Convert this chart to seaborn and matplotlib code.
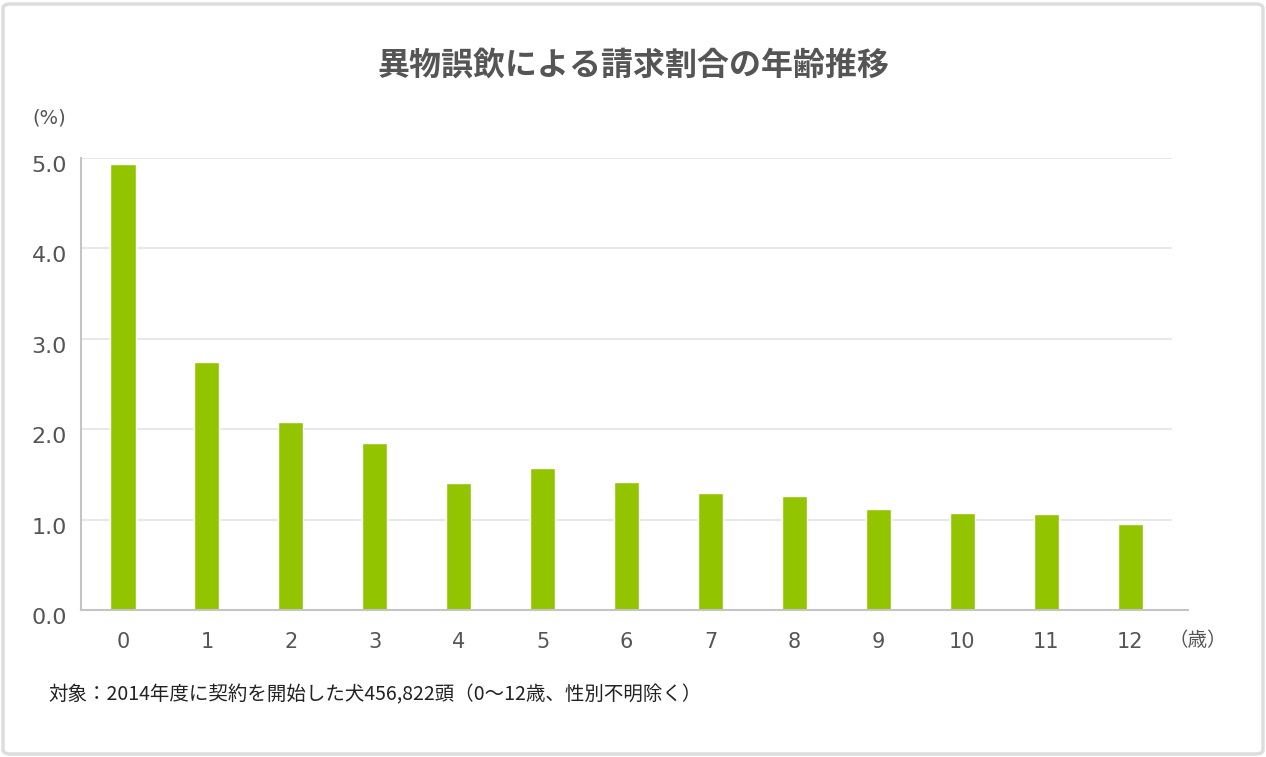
import numpy as np
import matplotlib
matplotlib.use("Agg")
import matplotlib.pyplot as plt
import matplotlib.transforms as mtransforms
from matplotlib.patches import FancyBboxPatch
import seaborn as sns

# data
ages = [0, 1, 2, 3, 4, 5, 6, 7, 8, 9, 10, 11, 12]
ratio = [4.93, 2.74, 2.08, 1.85, 1.41, 1.57, 1.42, 1.29, 1.26, 1.12, 1.07, 1.06, 0.95]
y_ticks = [0.0, 1.0, 2.0, 3.0, 4.0, 5.0]
y_tick_labels = ["0.0", "1.0", "2.0", "3.0", "4.0", "5.0"]

title = "異物誤飲による請求割合の年齢推移"
note = "対象：2014年度に契約を開始した犬456,822頭（0～12歳、性別不明除く）"

BAR = "#92c400"
TXT = "#555555"
JP = ["Noto Sans CJK JP", "DejaVu Sans"]

sns.set_style("white")
plt.rcParams["font.family"] = ["DejaVu Sans", "Noto Sans CJK JP"]

W, H = 1266, 757
fig = plt.figure(figsize=(W / 100, H / 100), dpi=100)
ax = fig.add_axes([81 / W, 1 - 610 / H, (1188 - 81) / W, (610 - 158) / H])

sns.barplot(x=ages, y=ratio, color=BAR, saturation=1, width=0.3, ax=ax)

ax.set_xlim(-0.5, 12.69)
ax.set_ylim(0, 5.0)

# light horizontal grid, stops at the last category boundary
ax.hlines(y_ticks[1:], -0.5, 12.5, color="#e8e8e8", lw=1.5, zorder=0)

for s in ["top", "right"]:
    ax.spines[s].set_visible(False)
for s in ["left", "bottom"]:
    ax.spines[s].set_color("#c4c4c4")
    ax.spines[s].set_linewidth(1.5)

ax.set_yticks(y_ticks)
ax.set_yticklabels(y_tick_labels, fontsize=16, color=TXT)
ax.tick_params(axis="y", direction="in", length=6, width=1, color="#c4c4c4", pad=10)
# labels sit a little under their grid line
off = mtransforms.ScaledTranslation(0, -6 / 100, fig.dpi_scale_trans)
for lab in ax.get_yticklabels():
    lab.set_transform(lab.get_transform() + off)

ax.set_xticks(range(len(ages)))
ax.set_xticklabels([str(a) for a in ages], fontsize=15, color=TXT)
ax.tick_params(axis="x", which="major", length=0, pad=16)
ax.set_xticks(np.arange(0.5, 12.6, 1.0), minor=True)
ax.tick_params(axis="x", which="minor", direction="in", length=8, width=1, color="#c4c4c4")
ax.set_xlabel("")
ax.set_ylabel("")

fig.text(633 / W, 1 - 66 / H, title, ha="center", va="center", fontsize=23,
         fontweight="bold", color=TXT, family=JP)
fig.text(32 / W, 1 - 118 / H, "(%)", ha="left", va="center", fontsize=14, color=TXT)
fig.text(1168 / W, 1 - 640 / H, "（歳）", ha="left", va="center", fontsize=14,
         color=TXT, family=JP)
fig.text(48 / W, 1 - 695 / H, note, ha="left", va="center", fontsize=14,
         color="#222222", family=JP)

# rounded frame around the whole picture
frame = FancyBboxPatch((3 / W, 3 / H), 1 - 6 / W, 1 - 7 / H,
                       boxstyle="round,pad=0,rounding_size=0.006",
                       transform=fig.transFigure, fill=False,
                       edgecolor="#dddddd", linewidth=2.5)
fig.patches.append(frame)

fig.savefig("out.png", dpi=100)
